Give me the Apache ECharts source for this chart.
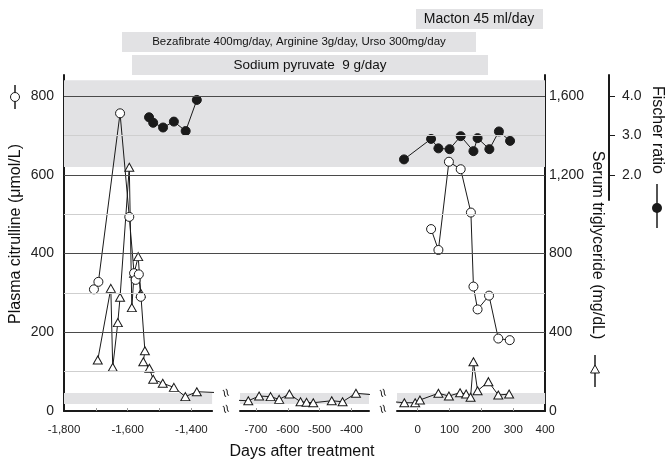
<!DOCTYPE html>
<html><head><meta charset="utf-8">
<script src="https://cdn.jsdelivr.net/npm/echarts@6/dist/echarts.min.js"></script>
<style>html,body{margin:0;padding:0;background:#fff}#c{width:665px;height:462px}</style>
</head><body><div id="c"></div>
<script>
// ---------- data ----------
const citrullinePreDays   = [-1706, -1692, -1624, -1595, -1580, -1575, -1565, -1559];
const citrullinePreValues = [309, 328, 756, 493, 350, 333, 347, 290];
const citrullinePostDays   = [42, 65, 98, 135, 167, 175, 188, 224, 253, 289];
const citrullinePostValues = [462, 409, 633, 614, 504, 316, 258, 293, 184, 180];

const triglycerideDays = [-1694, -1653, -1647, -1631, -1624, -1595, -1587, -1580, -1567, -1559, -1546, -1551, -1532, -1520, -1490, -1455, -1419, -1383,
  -724, -690, -654, -627, -595, -560, -541, -520, -462, -428, -386,
  -42, -8, 7, 65, 98, 133, 152, 166, 175, 188, 222, 253, 287];
const triglycerideValues = [259, 623, 222, 449, 578, 1238, 525, 699, 784, 598, 306, 250, 217, 161, 141, 120, 73, 98,
  52, 76, 73, 59, 86, 47, 44, 42, 52, 47, 90,
  42, 42, 56, 90, 76, 93, 86, 70, 250, 103, 149, 81, 86];

const fischerPreDays   = [-1533, -1520, -1489, -1455, -1418, -1383];
const fischerPreValues = [3.46, 3.32, 3.20, 3.35, 3.11, 3.90];
const fischerPostDays   = [-43, 42, 65, 100, 135, 175, 188, 225, 255, 290];
const fischerPostValues = [2.39, 2.91, 2.67, 2.65, 2.98, 2.60, 2.93, 2.65, 3.10, 2.86];

// axis ranges / ticks
const segmentRanges = [[-1800, -1335], [-750, -345], [-65, 400]];
const segmentTicks  = [[-1700, -1600, -1500, -1400], [-700, -600, -500, -400], [0, 100, 200, 300]];
const segmentLabels = [[-1800, -1600, -1400], [-700, -600, -500, -400], [0, 100, 200, 300, 400]];
const citrullineLabels = [0, 200, 400, 600, 800];
const triglycerideLabels = [0, 400, 800, 1200, 1600];
const fischerLabels = [2, 3, 4];
const majorGrid = [200, 400, 600, 800];
const minorGrid = [100, 300, 500, 700];
const fischerNormal = [2.2, 4.4];       // shaded band (Fischer ratio)
const citrullineNormal = [18, 46];      // shaded band (citrulline)

const treatments = [
  {text: 'Macton 45 ml/day'},
  {text: 'Bezafibrate 400mg/day, Arginine 3g/day, Urso 300mg/day'},
  {text: 'Sodium pyruvate  9 g/day'}
];

// ---------- layout ----------
const PLOT_LEFT = 64, PLOT_RIGHT = 545, PLOT_TOP = 75, PLOT_BOTTOM = 411;
const PX_PER_CIT = 0.39375;          // 800 units = 315 px
const PX_PER_DAY = 0.3185;
const segLefts = [64, 240, 397];
const citMax = (PLOT_BOTTOM - PLOT_TOP) / PX_PER_CIT;
const tgMax = citMax * 2;
const fisOf = c => c / 100 - 4;      // Fischer scale relation to citrulline scale
const FIS_BOTTOM = 200;
const fisAxisMin = fisOf((PLOT_BOTTOM - FIS_BOTTOM) / PX_PER_CIT);
const fisAxisMax = fisOf(citMax);

const FONT = 'Liberation Sans, Arial, Helvetica, sans-serif';
const INK = '#1a1a1a';
const BAND = '#e2e2e4';

const zip = (a, b) => a.map((d, i) => [d, b[i]]);

const grids = [{left: PLOT_LEFT, top: PLOT_TOP, width: PLOT_RIGHT - PLOT_LEFT, height: PLOT_BOTTOM - PLOT_TOP}];
const xAxes = [{gridIndex: 0, type: 'value', min: 0, max: 1, show: false}];
const yAxes = [
  {gridIndex: 0, type: 'value', min: 0, max: citMax, position: 'left',
   splitLine: {show: false}, axisTick: {show: false},
   axisLine: {show: true, lineStyle: {color: INK, width: 2}},
   axisLabel: {customValues: citrullineLabels, fontSize: 14, color: '#222', fontFamily: FONT, margin: 10}},
  {gridIndex: 0, type: 'value', min: 0, max: tgMax, position: 'right',
   splitLine: {show: false}, axisTick: {show: false},
   axisLine: {show: true, lineStyle: {color: INK, width: 2}},
   axisLabel: {customValues: triglycerideLabels, fontSize: 14, color: '#222', fontFamily: FONT, margin: 4,
     formatter: v => v.toLocaleString('en-US')}}
];
const series = [{
  type: 'line', xAxisIndex: 0, yAxisIndex: 0, data: [], silent: true,
  markArea: {silent: true, itemStyle: {color: BAND},
    data: [[{yAxis: (fischerNormal[0] + 4) * 100}, {yAxis: (fischerNormal[1] + 4) * 100}]]},
  markLine: {silent: true, symbol: 'none', label: {show: false},
    data: minorGrid.map(v => ({yAxis: v, lineStyle: {color: '#cfcfcf', width: 1, type: 'solid'}}))
      .concat(majorGrid.map(v => ({yAxis: v, lineStyle: {color: '#4a4a4a', width: 1, type: 'solid'}})))}
}];

const lineBase = {type: 'line', clip: true, silent: true, lineStyle: {color: INK, width: 1}};

segmentRanges.forEach((r, s) => {
  const g = grids.length;
  grids.push({left: segLefts[s], top: PLOT_TOP, width: (r[1] - r[0]) * PX_PER_DAY, height: PLOT_BOTTOM - PLOT_TOP});
  const xi = xAxes.length;
  xAxes.push({gridIndex: g, type: 'value', min: r[0], max: r[1], splitLine: {show: false},
    axisLine: {show: true, onZero: false, lineStyle: {color: INK, width: 2}},
    axisTick: {show: true, inside: true, length: 3, customValues: segmentTicks[s], lineStyle: {color: '#999'}},
    axisLabel: {customValues: segmentLabels[s], fontSize: 11.5, color: '#222', fontFamily: FONT, margin: 13,
      formatter: v => v.toLocaleString('en-US')}});
  const yc = yAxes.length;
  yAxes.push({gridIndex: g, type: 'value', min: 0, max: citMax, show: false});
  yAxes.push({gridIndex: g, type: 'value', min: 0, max: tgMax, show: false});
  yAxes.push({gridIndex: g, type: 'value', min: fisOf(0), max: fisAxisMax, show: false});
  // low shaded band
  series.push({type: 'line', xAxisIndex: xi, yAxisIndex: yc, data: [], silent: true,
    markArea: {silent: true, itemStyle: {color: BAND}, data: [[{yAxis: citrullineNormal[0]}, {yAxis: citrullineNormal[1]}]]}});
  // triglyceride
  series.push(Object.assign({}, lineBase, {xAxisIndex: xi, yAxisIndex: yc + 1, z: 3,
    data: zip(triglycerideDays, triglycerideValues), symbol: 'triangle', symbolSize: [9, 8],
    itemStyle: {color: '#fff', borderColor: INK, borderWidth: 1}}));
  if (s === 0 || s === 2) {
    const cd = s === 0 ? zip(citrullinePreDays, citrullinePreValues) : zip(citrullinePostDays, citrullinePostValues);
    const fd = s === 0 ? zip(fischerPreDays, fischerPreValues) : zip(fischerPostDays, fischerPostValues);
    series.push(Object.assign({}, lineBase, {xAxisIndex: xi, yAxisIndex: yc, z: 4, data: cd,
      symbol: 'circle', symbolSize: 9, itemStyle: {color: '#fff', borderColor: INK, borderWidth: 1}}));
    series.push(Object.assign({}, lineBase, {xAxisIndex: xi, yAxisIndex: yc + 2, z: 4, data: fd,
      symbol: 'circle', symbolSize: 9, itemStyle: {color: INK, borderColor: INK, borderWidth: 1}}));
  }
});

// Fischer ratio axis (short separate axis)
grids.push({left: 609, top: PLOT_TOP, width: 1, height: FIS_BOTTOM - PLOT_TOP});
xAxes.push({gridIndex: grids.length - 1, type: 'value', show: false, min: 0, max: 1});
yAxes.push({gridIndex: grids.length - 1, type: 'value', min: fisAxisMin, max: fisAxisMax, position: 'right',
  splitLine: {show: false},
  axisLine: {show: true, lineStyle: {color: INK, width: 2}},
  axisTick: {show: true, length: 6, customValues: fischerLabels, lineStyle: {color: INK, width: 1}},
  axisLabel: {customValues: fischerLabels, fontSize: 14, color: '#222', fontFamily: FONT, margin: 12,
    formatter: v => v.toFixed(1)}});

// ---------- decorations ----------
const boxes = [
  {x: 416, y: 9, w: 127, h: 20, fs: 14, cx: 479},
  {x: 122, y: 32, w: 354, h: 20, fs: 11.5, cx: 299},
  {x: 132, y: 55, w: 356, h: 20, fs: 13.5, cx: 310}
];
const graphic = [];
boxes.forEach((b, i) => {
  graphic.push({type: 'rect', shape: {x: b.x, y: b.y, width: b.w, height: b.h}, style: {fill: BAND}, silent: true});
  graphic.push({type: 'text', x: b.cx, y: b.y + b.h / 2, silent: true,
    style: {text: treatments[i].text, align: 'center', verticalAlign: 'middle', fill: '#111',
      font: `${b.fs}px ${FONT}`}});
});
// axis titles
graphic.push({type: 'text', x: 16, y: 234, rotation: Math.PI / 2, silent: true,
  style: {text: 'Plasma citrulline (μmol/L)', align: 'center', verticalAlign: 'middle', fill: '#111', font: `16px ${FONT}`}});
graphic.push({type: 'text', x: 597, y: 245, rotation: -Math.PI / 2, silent: true,
  style: {text: 'Serum triglyceride (mg/dL)', align: 'center', verticalAlign: 'middle', fill: '#111', font: `16px ${FONT}`}});
graphic.push({type: 'text', x: 657, y: 130, rotation: -Math.PI / 2, silent: true,
  style: {text: 'Fischer ratio', align: 'center', verticalAlign: 'middle', fill: '#111', font: `16px ${FONT}`}});
graphic.push({type: 'text', x: 302, y: 452, silent: true,
  style: {text: 'Days after treatment', align: 'center', verticalAlign: 'middle', fill: '#111', font: `16px ${FONT}`}});
// legend keys
graphic.push({type: 'line', shape: {x1: 15, y1: 85, x2: 15, y2: 109}, style: {stroke: INK, lineWidth: 1.5}, silent: true});
graphic.push({type: 'circle', shape: {cx: 15, cy: 97, r: 4.5}, style: {fill: '#fff', stroke: INK, lineWidth: 1}, silent: true});
graphic.push({type: 'line', shape: {x1: 595, y1: 355, x2: 595, y2: 387}, style: {stroke: INK, lineWidth: 1.5}, silent: true});
graphic.push({type: 'polygon', shape: {points: [[595, 365], [599.5, 373], [590.5, 373]]}, style: {fill: '#fff', stroke: INK, lineWidth: 1}, silent: true});
graphic.push({type: 'line', shape: {x1: 657, y1: 184, x2: 657, y2: 228}, style: {stroke: INK, lineWidth: 1.5}, silent: true});
graphic.push({type: 'circle', shape: {cx: 657, cy: 208, r: 5}, style: {fill: INK}, silent: true});
// axis-break marks
[[225, 393], [225, 409], [382, 393], [382, 409]].forEach(p => {
  graphic.push({type: 'text', x: p[0], y: p[1], rotation: -1.2, silent: true,
    style: {text: '≈', align: 'center', verticalAlign: 'middle', fill: '#222', font: `15px ${FONT}`}});
});

const chart = echarts.init(document.getElementById('c'), null, {renderer: 'canvas'});
chart.setOption({
  animation: false,
  backgroundColor: '#fff',
  grid: grids, xAxis: xAxes, yAxis: yAxes, series: series, graphic: graphic
});
</script>
</body></html>
